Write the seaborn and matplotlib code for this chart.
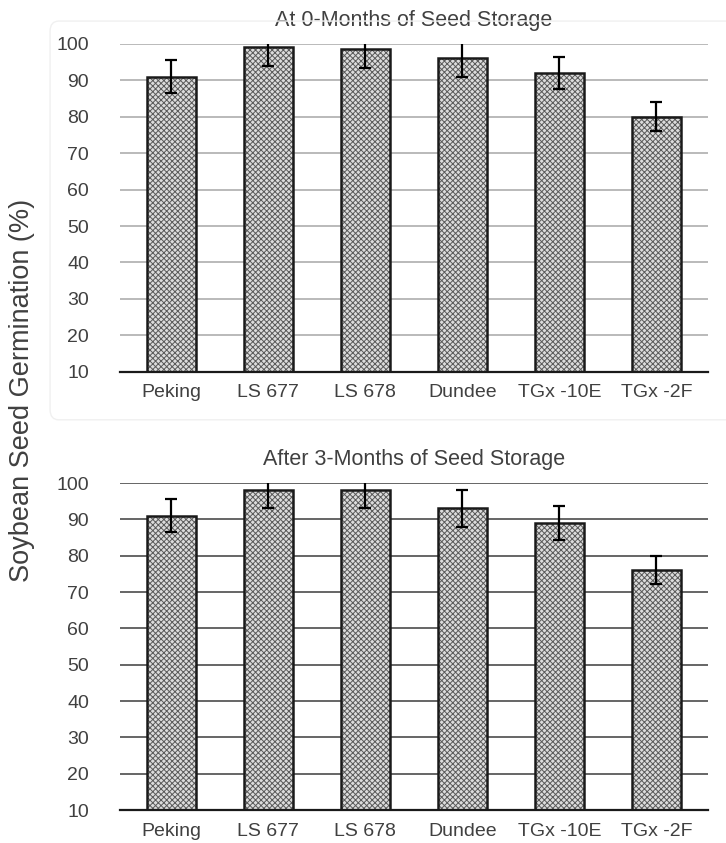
import matplotlib
matplotlib.use("Agg")
import matplotlib.pyplot as plt
import seaborn as sns
import pandas as pd
from matplotlib.patches import FancyBboxPatch

# Soybean cultivars and germination (%) with error half-widths
cultivars = ["Peking", "LS 677", "LS 678", "Dundee", "TGx -10E", "TGx -2F"]
germ_0m = [91, 99, 98.5, 96, 92, 80]
err_0m = [4.5, 5, 5, 5.2, 4.5, 4]
germ_3m = [91, 98, 98, 93, 89, 76]
err_3m = [4.6, 5, 5, 5, 4.6, 3.8]
titles = ["At 0-Months of Seed Storage", "After 3-Months of Seed Storage"]
yticks = [10, 20, 30, 40, 50, 60, 70, 80, 90, 100]

sns.set_theme(style="white")
plt.rcParams["font.family"] = ["Liberation Sans", "DejaVu Sans"]
plt.rcParams["hatch.linewidth"] = 0.7

fig = plt.figure(figsize=(7.26, 8.43), dpi=100)

# faint rounded frame around the upper chart
frame = FancyBboxPatch((0.069, 0.502), 0.95, 0.473,
                       boxstyle="round,pad=0,rounding_size=0.012",
                       transform=fig.transFigure, fill=False,
                       edgecolor="#f0f0f0", linewidth=1.0, zorder=0)
fig.patches.append(frame)

ax1 = fig.add_axes([0.165, 0.559, 0.81, 0.389])
ax2 = fig.add_axes([0.165, 0.039, 0.81, 0.388])

panels = [
    (ax1, germ_0m, err_0m, titles[0], "#b4b4b4"),
    (ax2, germ_3m, err_3m, titles[1], "#595959"),
]

text_col = "#404040"
for ax, vals, errs, title, gridcol in panels:
    df = pd.DataFrame({"cultivar": cultivars, "germination": vals})
    ax.patch.set_alpha(0)
    ax.set_ylim(10, 100)
    ax.set_yticks(yticks)
    ax.grid(axis="y", color=gridcol, linewidth=1.3, zorder=0)
    ax.set_axisbelow(True)
    # textured fill
    sns.barplot(data=df, x="cultivar", y="germination", ax=ax,
                color="#dcdcdc", width=0.51, errorbar=None,
                edgecolor="#5a5a5a", linewidth=0, hatch="xxxxxx",
                saturation=1, zorder=2)
    # dark bar outlines
    sns.barplot(data=df, x="cultivar", y="germination", ax=ax,
                color="#1a1a1a", width=0.51, errorbar=None, fill=False,
                linewidth=1.8, zorder=3)
    centers = [p.get_x() + p.get_width() / 2 for p in ax.patches[:len(vals)]]
    ax.errorbar(centers, vals, yerr=errs, fmt="none", ecolor="black",
                elinewidth=1.6, capsize=4, capthick=1.6, zorder=4)
    ax.set_ylim(10, 100)
    ax.set_xlabel("")
    ax.set_ylabel("")
    ax.set_title(title, fontsize=15.5, color=text_col, pad=13)
    for s in ["left", "right", "top"]:
        ax.spines[s].set_visible(False)
    ax.spines["bottom"].set_color("#1a1a1a")
    ax.spines["bottom"].set_linewidth(1.6)
    ax.tick_params(axis="both", length=0, labelsize=14, labelcolor=text_col)
    ax.tick_params(axis="x", pad=9)
    ax.tick_params(axis="y", pad=22)

fig.text(0.03, 0.537, "Soybean Seed Germination (%)", rotation=90,
         ha="center", va="center", fontsize=19.5, color=text_col)

fig.savefig("out.png", dpi=100)
